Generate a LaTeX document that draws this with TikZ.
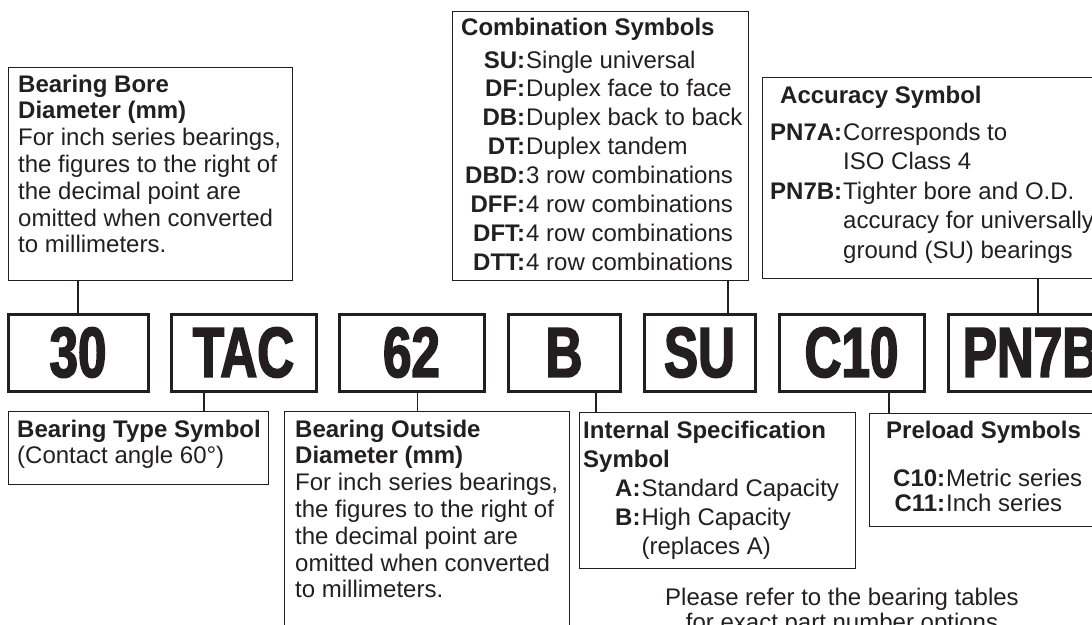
\documentclass[tikz,border=0pt]{standalone}
\usepackage{fontspec}
\setmainfont{Liberation Sans}
\newfontfamily\codefont{Liberation Sans}[BoldFeatures={FakeStretch=0.72,FakeBold=2.2}]
\usepackage{array}
\definecolor{ink}{HTML}{231F20}
\tikzset{
    codebox/.style={draw=ink, line width=3pt, minimum height=77, inner sep=0pt, text=ink,
        font=\codefont\bfseries\fontsize{71}{71}\selectfont},
    infobox/.style={draw=ink, line width=1.3pt, anchor=north west, inner sep=0pt},
    infotext/.style={anchor=base west, inner sep=0pt, text=ink, font=\fontsize{24}{26.8}\selectfont},
    link/.style={draw=ink, line width=1.3pt}
}

\begin{document}
\begin{tikzpicture}[x=1pt, y=-1pt]
    \useasboundingbox (0,0) rectangle (1092,624);
    \clip (0,0) rectangle (1092,624);

    % part number
    \node[codebox, minimum width=140] (n30) at (78,352.5) {30};
    \node[codebox, minimum width=145] (tac) at (243.5,352.5) {TAC};
    \node[codebox, minimum width=145] (n62) at (411.5,352.5) {62};
    \node[codebox, minimum width=112] (capB) at (564,352.5) {B};
    \node[codebox, minimum width=111] (su) at (699.5,352.5) {SU};
    \node[codebox, minimum width=145] (c10) at (851.5,352.5) {C10};
    \node[codebox, minimum width=165, anchor=west] (pn7b) at (947,352.5) {PN7B};

    % boxes above
    \node[infobox, minimum width=284, minimum height=213] (borebox) at (8,67) {};
    \node[infotext] (boretext) at (18,92) {%
        \begin{tabular}[t]{@{}l@{}}
            \bfseries Bearing Bore\\
            \bfseries Diameter (mm)\\
            For inch series bearings,\\
            the figures to the right of\\
            the decimal point are\\
            omitted when converted\\
            to millimeters.
        \end{tabular}};

    \node[infobox, minimum width=296, minimum height=269] (combbox) at (452,11) {};
    \node[infotext, font=\fontsize{24}{28.9}\selectfont] (combtext) at (461,35) {%
        \begin{tabular}[t]{@{\hspace{4pt}}r@{\hspace{1pt}}l@{}}
            \multicolumn{2}{@{}l@{}}{\bfseries Combination Symbols}\\[4.1pt]
            \bfseries SU: & Single universal\\
            \bfseries DF: & Duplex face to face\\
            \bfseries DB: & Duplex back to back\\
            \bfseries DT: & Duplex tandem\\
            \bfseries DBD: & 3 row combinations\\
            \bfseries DFF: & 4 row combinations\\
            \bfseries DFT: & 4 row combinations\\
            \bfseries DTT: & 4 row combinations
        \end{tabular}};

    \node[infobox, minimum width=340, minimum height=201] (accbox) at (762,77) {};
    \node[infotext, font=\fontsize{24}{29.5}\selectfont] (acctext) at (770,103) {%
        \begin{tabular}[t]{@{}r@{\hspace{1pt}}l@{}}
            \multicolumn{2}{@{\hspace{10pt}}l@{}}{\bfseries Accuracy Symbol}\\[7.5pt]
            \bfseries PN7A: & Corresponds to\\
             & ISO Class 4\\
            \bfseries PN7B: & Tighter bore and O.D.\\
             & accuracy for universally\\
             & ground (SU) bearings
        \end{tabular}};

    % boxes below
    \node[infobox, minimum width=260, minimum height=73] (typebox) at (8,411) {};
    \node[infotext] (typetext) at (17,437) {%
        \begin{tabular}[t]{@{}l@{}}
            \bfseries Bearing Type Symbol\\
            (Contact angle 60°)
        \end{tabular}};

    \node[infobox, minimum width=285, minimum height=230] (odbox) at (284,411) {};
    \node[infotext] (odtext) at (295,437) {%
        \begin{tabular}[t]{@{}l@{}}
            \bfseries Bearing Outside\\
            \bfseries Diameter (mm)\\
            For inch series bearings,\\
            the figures to the right of\\
            the decimal point are\\
            omitted when converted\\
            to millimeters.
        \end{tabular}};

    \node[infobox, minimum width=276, minimum height=156] (specbox) at (579,412) {};
    \node[infotext, font=\fontsize{24}{29}\selectfont] (spectext) at (583,438) {%
        \begin{tabular}[t]{@{\hspace{32pt}}r@{\hspace{1pt}}l@{}}
            \multicolumn{2}{@{}l@{}}{\bfseries Internal Specification}\\
            \multicolumn{2}{@{}l@{}}{\bfseries Symbol}\\
            \bfseries A: & Standard Capacity\\
            \bfseries B: & High Capacity\\
             & (replaces A)
        \end{tabular}};

    \node[infobox, minimum width=240, minimum height=113] (prebox) at (869,413) {};
    \node[infotext, font=\fontsize{24}{25}\selectfont] (pretext) at (886,438) {%
        \begin{tabular}[t]{@{\hspace{7pt}}r@{\hspace{1pt}}l@{}}
            \multicolumn{2}{@{}l@{}}{\bfseries Preload Symbols}\\[23pt]
            \bfseries C10: & Metric series\\
            \bfseries C11: & Inch series
        \end{tabular}};

    \node[anchor=base, inner sep=0pt, text=ink, font=\fontsize{24}{25}\selectfont] (note) at (842,605) {%
        \begin{tabular}[t]{@{}c@{}}
            Please refer to the bearing tables\\
            for exact part number options
        \end{tabular}};

    % connectors
    \draw[link] (n30.north) -- (n30.north |- borebox.south);
    \draw[link] ([xshift=28.5]su.north) -- ([xshift=28.5]su.north |- combbox.south);
    \draw[link] ([xshift=91]pn7b.north west) -- ([xshift=91]pn7b.north west |- accbox.south);
    \draw[link] ([xshift=-39.5]tac.south) -- ([xshift=-39.5]tac.south |- typebox.north);
    \draw[link] ([xshift=6]n62.south) -- ([xshift=6]n62.south |- odbox.north);
    \draw[link] ([xshift=32]capB.south) -- ([xshift=32]capB.south |- specbox.north);
    \draw[link] ([xshift=37.5]c10.south) -- ([xshift=37.5]c10.south |- prebox.north);
\end{tikzpicture}
\end{document}
